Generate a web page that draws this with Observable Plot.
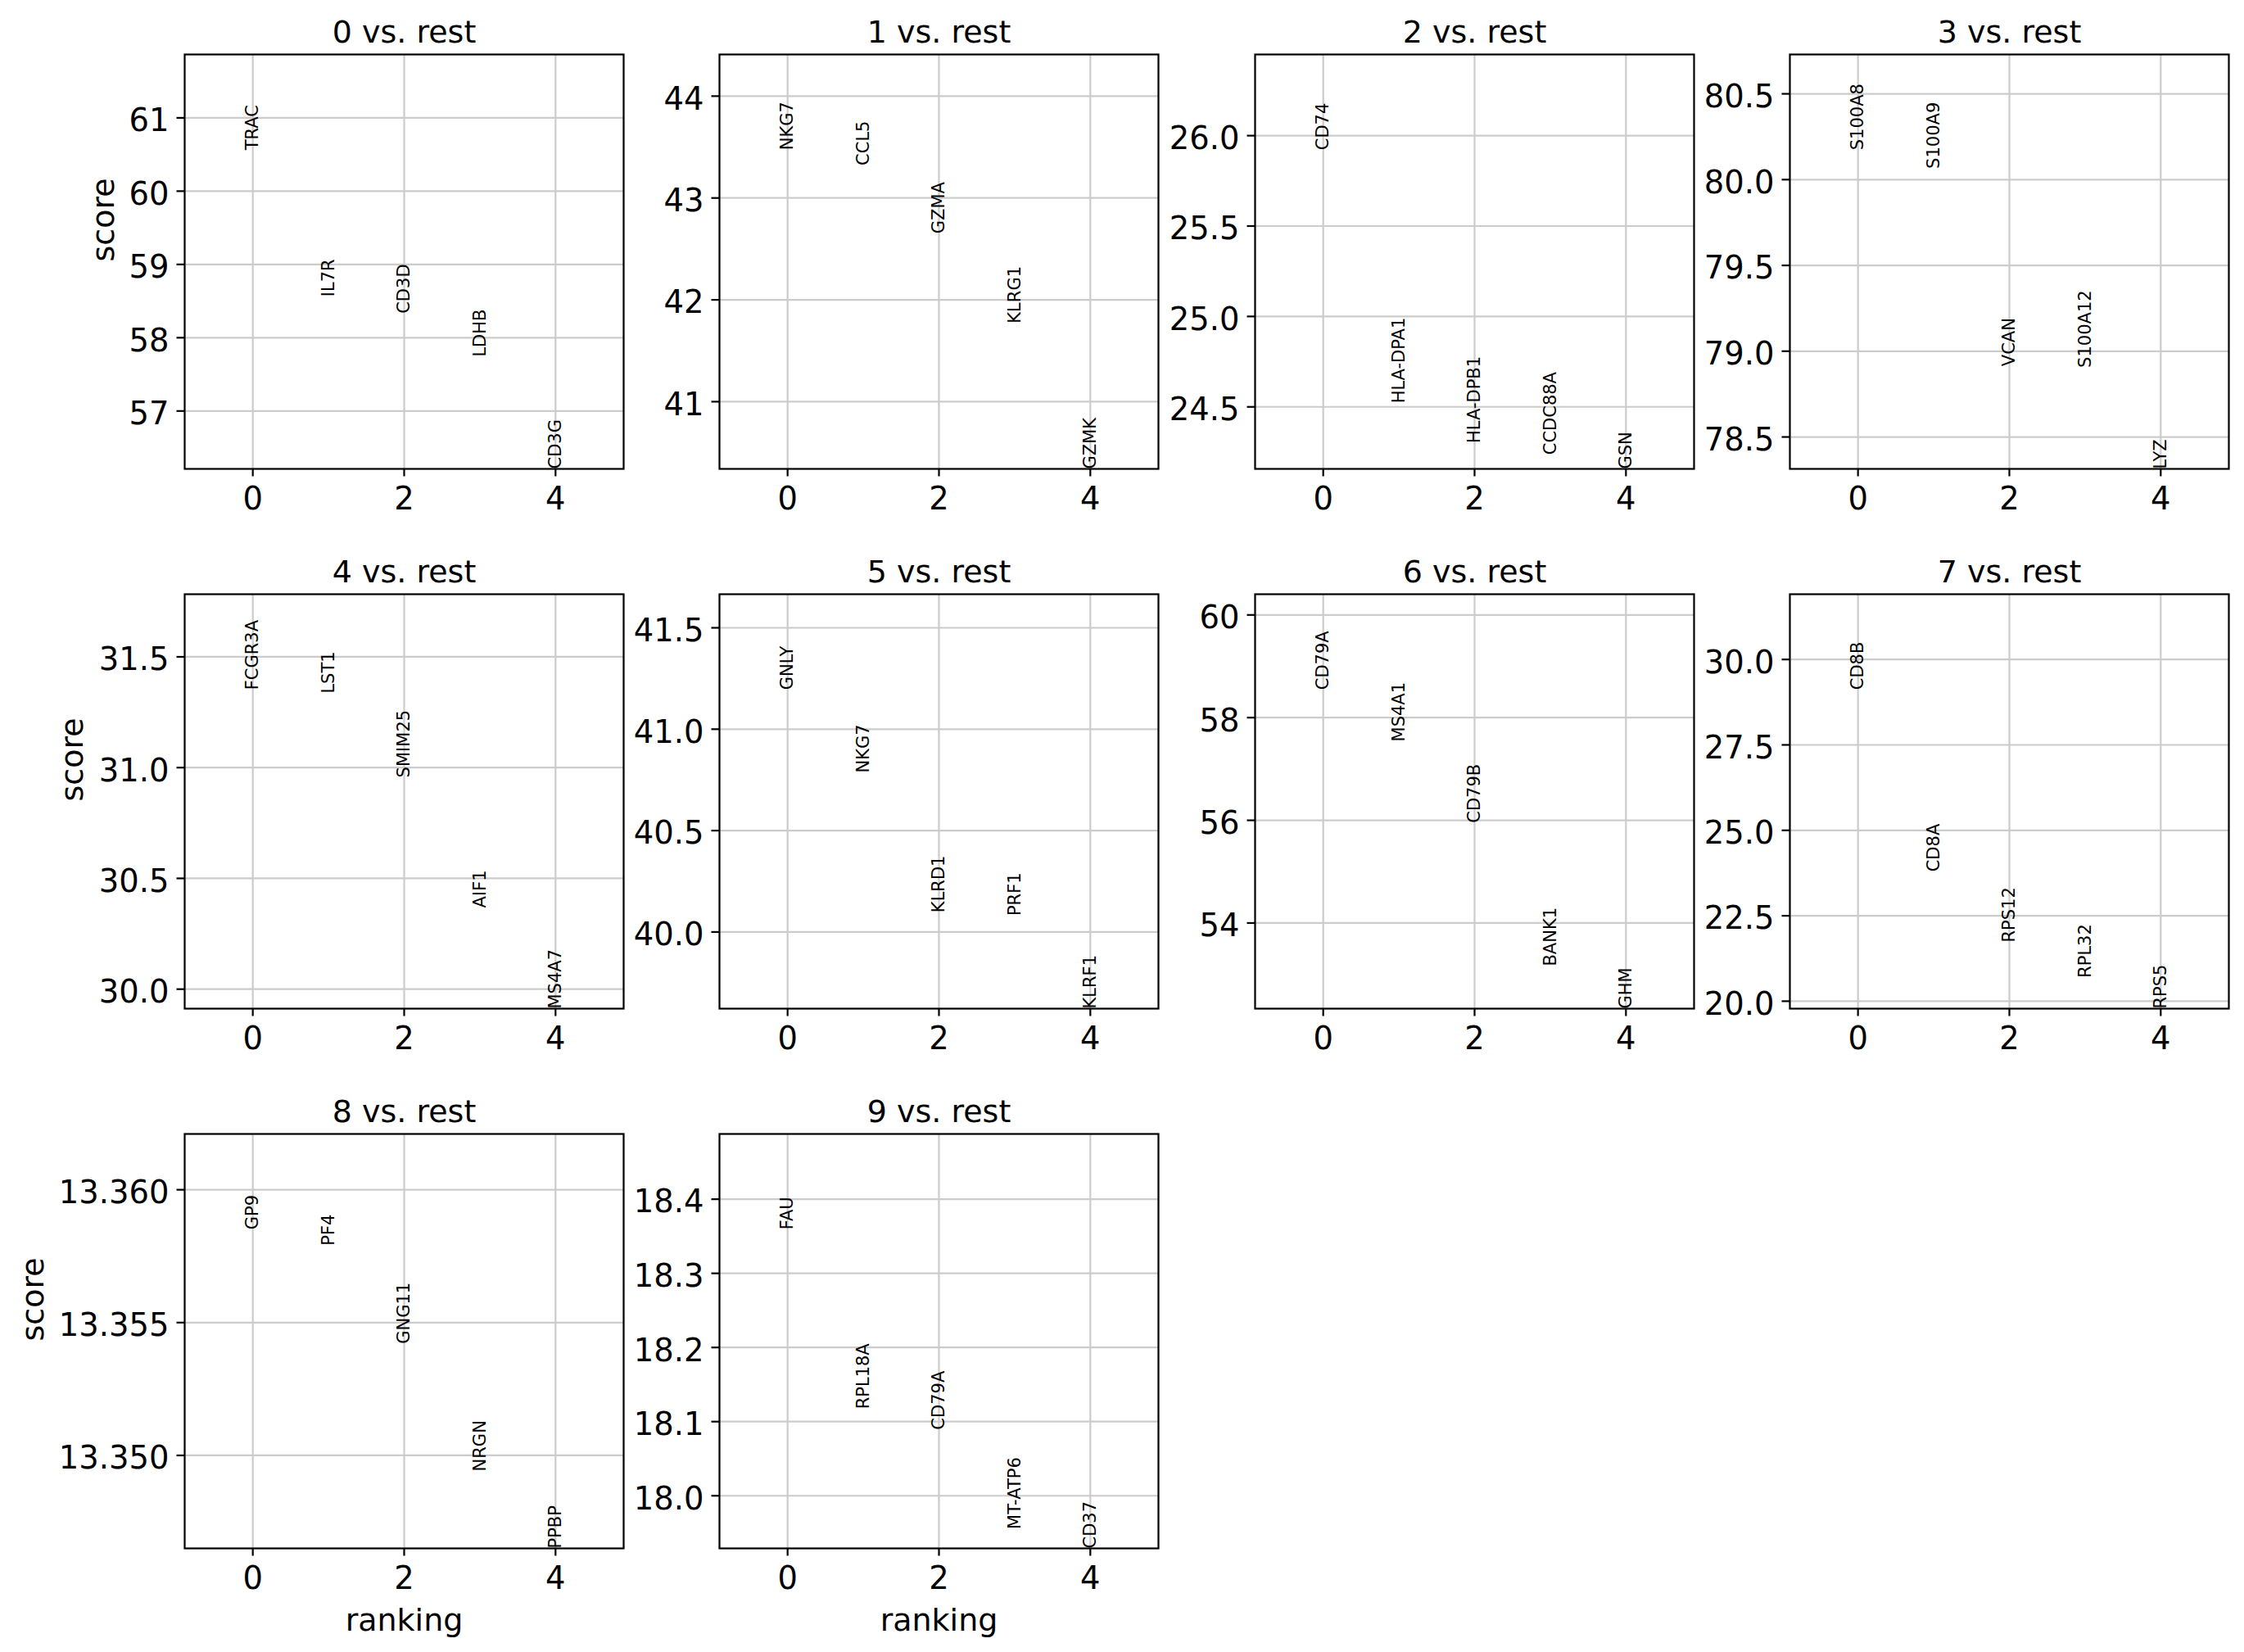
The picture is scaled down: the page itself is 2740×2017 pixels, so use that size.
<!DOCTYPE html>
<html><head><meta charset="utf-8">
<script src="https://cdn.jsdelivr.net/npm/d3@7"></script>
<script src="https://cdn.jsdelivr.net/npm/@observablehq/plot@0.6"></script>
<style>
html,body{margin:0;padding:0;background:#fff;}
#chart{position:relative;width:2740px;height:2017px;background:#fff;overflow:hidden;}
#chart svg{position:absolute;max-width:none;}
</style></head><body><div id="chart"></div>
<script>
// ---- data ----
const groups = ["0","1","2","3","4","5","6","7","8","9"];
const ranks = [0,1,2,3,4];

const genes0 = ["TRAC","IL7R","CD3D","LDHB","CD3G"];
const scores0 = [60.56, 58.56, 58.33, 57.74, 56.21];
const genes1 = ["NKG7","CCL5","GZMA","KLRG1","GZMK"];
const scores1 = [43.47, 43.32, 42.65, 41.77, 40.34];
const genes2 = ["CD74","HLA-DPA1","HLA-DPB1","CCDC88A","GSN"];
const scores2 = [25.92, 24.52, 24.30, 24.235, 24.157];
const genes3 = ["S100A8","S100A9","VCAN","S100A12","LYZ"];
const scores3 = [80.172, 80.064, 78.912, 78.904, 78.314];
const genes4 = ["FCGR3A","LST1","SMIM25","AIF1","MS4A7"];
const scores4 = [31.351, 31.335, 30.955, 30.367, 29.912];
const genes5 = ["GNLY","NKG7","KLRD1","PRF1","KLRF1"];
const scores5 = [41.194, 40.785, 40.096, 40.080, 39.622];
const genes6 = ["CD79A","MS4A1","CD79B","BANK1","GHM"];
const scores6 = [58.541, 57.533, 55.949, 53.160, 52.332];
const genes7 = ["CD8B","CD8A","RPS12","RPL32","RPS5"];
const scores7 = [29.111, 23.789, 21.724, 20.684, 19.782];
const genes8 = ["GP9","PF4","GNG11","NRGN","PPBP"];
const scores8 = [13.3585, 13.3579, 13.3542, 13.3494, 13.3465];
const genes9 = ["FAU","RPL18A","CD79A","MT-ATP6","CD37"];
const scores9 = [18.359, 18.117, 18.089, 17.955, 17.929];

const xTicks = [0, 2, 4];
const yTicks0 = [57, 58, 59, 60, 61];
const yTicks1 = [41, 42, 43, 44];
const yTicks2 = [24.5, 25.0, 25.5, 26.0];
const yTicks3 = [78.5, 79.0, 79.5, 80.0, 80.5];
const yTicks4 = [30.0, 30.5, 31.0, 31.5];
const yTicks5 = [40.0, 40.5, 41.0, 41.5];
const yTicks6 = [54, 56, 58, 60];
const yTicks7 = [20.0, 22.5, 25.0, 27.5, 30.0];
const yTicks8 = [13.350, 13.355, 13.360];
const yTicks9 = [18.0, 18.1, 18.2, 18.3, 18.4];
const yDecimals = [0, 0, 1, 1, 1, 1, 0, 1, 3, 1];

const genes = [genes0,genes1,genes2,genes3,genes4,genes5,genes6,genes7,genes8,genes9];
const scores = [scores0,scores1,scores2,scores3,scores4,scores5,scores6,scores7,scores8,scores9];
const yTicks = [yTicks0,yTicks1,yTicks2,yTicks3,yTicks4,yTicks5,yTicks6,yTicks7,yTicks8,yTicks9];

// ---- layout ----
const colLeft = [225, 878, 1532, 2185];
const rowTop = [66, 724.5, 1383.5];
const AW = 536, AH = 506;
const ML = 220, MR = 20, MT = 70, MB = 120;
const scoreOffset = [99, 137, 185];
const FONT = "DejaVu Sans";
const chart = document.getElementById("chart");

groups.forEach((g, i) => {
  const row = Math.floor(i / 4), col = i % 4;
  const data = ranks.map((r, j) => ({rank: r, gene: genes[i][j], score: scores[i][j]}));
  const ymin = d3.min(scores[i]), ymaxRaw = d3.max(scores[i]);
  const ymax = ymaxRaw + 0.3 * (ymaxRaw - ymin);
  const marks = [
    Plot.gridX(xTicks, {stroke: "#cccccc", strokeOpacity: 1, strokeWidth: 2.2}),
    Plot.gridY(yTicks[i], {stroke: "#cccccc", strokeOpacity: 1, strokeWidth: 2.2}),
    Plot.axisX(xTicks, {tickSize: 9.5, tickPadding: 13, fontSize: 38.5, tickFormat: d3.format("d"), strokeWidth: 2.2, label: null}),
    // y tick marks only
    Plot.axisY(yTicks[i], {tickSize: 9.5, tickFormat: () => "", strokeWidth: 2.2, label: null}),
    // y tick labels only
    Plot.axisY(yTicks[i], {tickSize: 0, tickPadding: 19, dy: 4, fontSize: 38.5, tickFormat: d3.format(`.${yDecimals[i]}f`), label: null}),
    Plot.text(data, {x: "rank", y: "score", text: "gene", rotate: -90, textAnchor: "start", lineAnchor: "middle", fontSize: 21, fill: "black"}),
    Plot.frame({stroke: "black", strokeWidth: 2.2}),
    Plot.text([`${g} vs. rest`], {text: d => d, frameAnchor: "top", dy: -15, lineAnchor: "bottom", fontSize: 38, fill: "black"})
  ];
  if (col === 0) {
    marks.push(Plot.text(["score"], {text: d => d, frameAnchor: "left", dx: -scoreOffset[row], rotate: -90, lineAnchor: "middle", fontSize: 38, fill: "black"}));
  }
  if (row === 2) {
    marks.push(Plot.text(["ranking"], {text: d => d, frameAnchor: "bottom", dy: 88, lineAnchor: "middle", fontSize: 38, fill: "black"}));
  }
  const svg = Plot.plot({
    width: ML + AW + MR,
    height: MT + AH + MB,
    marginLeft: ML, marginRight: MR, marginTop: MT, marginBottom: MB,
    x: {domain: [-0.9, 4.9]},
    y: {domain: [ymin, ymax]},
    style: {fontFamily: FONT, background: "transparent", overflow: "visible", color: "black"},
    marks
  });
  svg.style.left = (colLeft[col] - ML) + "px";
  svg.style.top = (rowTop[row] - MT) + "px";
  chart.appendChild(svg);
});
</script></body></html>
